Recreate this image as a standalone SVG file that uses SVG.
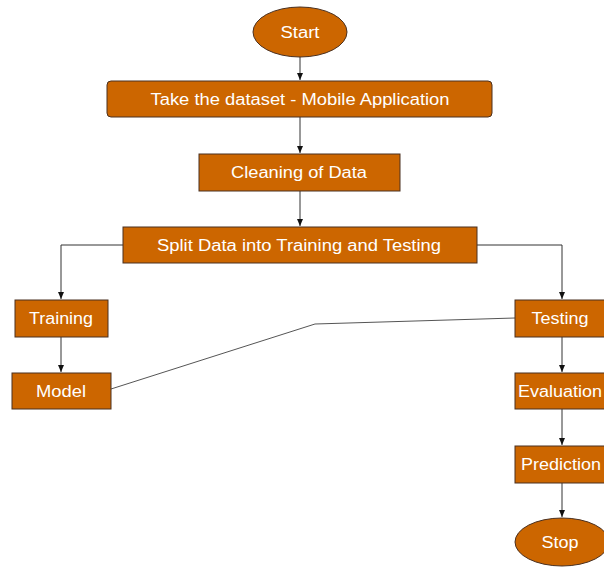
<svg xmlns="http://www.w3.org/2000/svg" width="604" height="567" viewBox="0 0 604 567">
<style>
.n{fill:#CC6600;stroke:#4a3020;stroke-width:1}
.t{fill:#fff;font-family:"Liberation Sans",Arial,sans-serif;font-size:16px;text-anchor:middle;dominant-baseline:central}
.c{fill:none;stroke:#333;stroke-width:1}
.g{fill:none;stroke:#555;stroke-width:1}
</style>
<defs>
<marker id="a" markerWidth="8" markerHeight="8" refX="7" refY="4" orient="auto" markerUnits="userSpaceOnUse">
<path d="M0,1 L7,4 L0,7 z" fill="#111"/>
</marker>
</defs>
<rect width="604" height="567" fill="#fff"/>
<g id="connectors">
<path class="c" d="M300,57 V80" marker-end="url(#a)"/>
<path class="c" d="M300,117 V153" marker-end="url(#a)"/>
<path class="c" d="M300,191 V226" marker-end="url(#a)"/>
<path class="c" d="M123,245 H61 V299" marker-end="url(#a)"/>
<path class="c" d="M477,245 H562 V299" marker-end="url(#a)"/>
<path class="c" d="M61,337 V372" marker-end="url(#a)"/>
<path class="c" d="M562,337 V372" marker-end="url(#a)"/>
<path class="c" d="M562,409 V445" marker-end="url(#a)"/>
<path class="c" d="M562,483 V517" marker-end="url(#a)"/>
<path class="g" d="M111,389 L315,324 L515,318"/>
</g>
<g id="start"><ellipse class="n" cx="300" cy="32" rx="47" ry="25"/><text class="t" x="300" y="32" textLength="39" lengthAdjust="spacingAndGlyphs">Start</text></g>
<g id="dataset"><rect class="n" x="107" y="81" width="385" height="36" rx="4"/><text class="t" x="300" y="99" textLength="299" lengthAdjust="spacingAndGlyphs">Take the dataset - Mobile Application</text></g>
<g id="cleaning"><rect class="n" x="199" y="154" width="201" height="37"/><text class="t" x="299" y="172" textLength="136" lengthAdjust="spacingAndGlyphs">Cleaning of Data</text></g>
<g id="split"><rect class="n" x="123" y="227" width="354" height="36"/><text class="t" x="299" y="245" textLength="284" lengthAdjust="spacingAndGlyphs">Split Data into Training and Testing</text></g>
<g id="training"><rect class="n" x="15" y="300" width="93" height="37"/><text class="t" x="61" y="318" textLength="64" lengthAdjust="spacingAndGlyphs">Training</text></g>
<g id="model"><rect class="n" x="12" y="373" width="99" height="36"/><text class="t" x="61" y="391" textLength="50" lengthAdjust="spacingAndGlyphs">Model</text></g>
<g id="testing"><rect class="n" x="515" y="300" width="94" height="37"/><text class="t" x="560" y="318" textLength="57" lengthAdjust="spacingAndGlyphs">Testing</text></g>
<g id="evaluation"><rect class="n" x="515" y="373" width="94" height="36"/><text class="t" x="560" y="391" textLength="84" lengthAdjust="spacingAndGlyphs">Evaluation</text></g>
<g id="prediction"><rect class="n" x="515" y="446" width="94" height="37"/><text class="t" x="561" y="464" textLength="80" lengthAdjust="spacingAndGlyphs">Prediction</text></g>
<g id="stop"><ellipse class="n" cx="562" cy="542" rx="47" ry="24"/><text class="t" x="560" y="542" textLength="37" lengthAdjust="spacingAndGlyphs">Stop</text></g>
</svg>
